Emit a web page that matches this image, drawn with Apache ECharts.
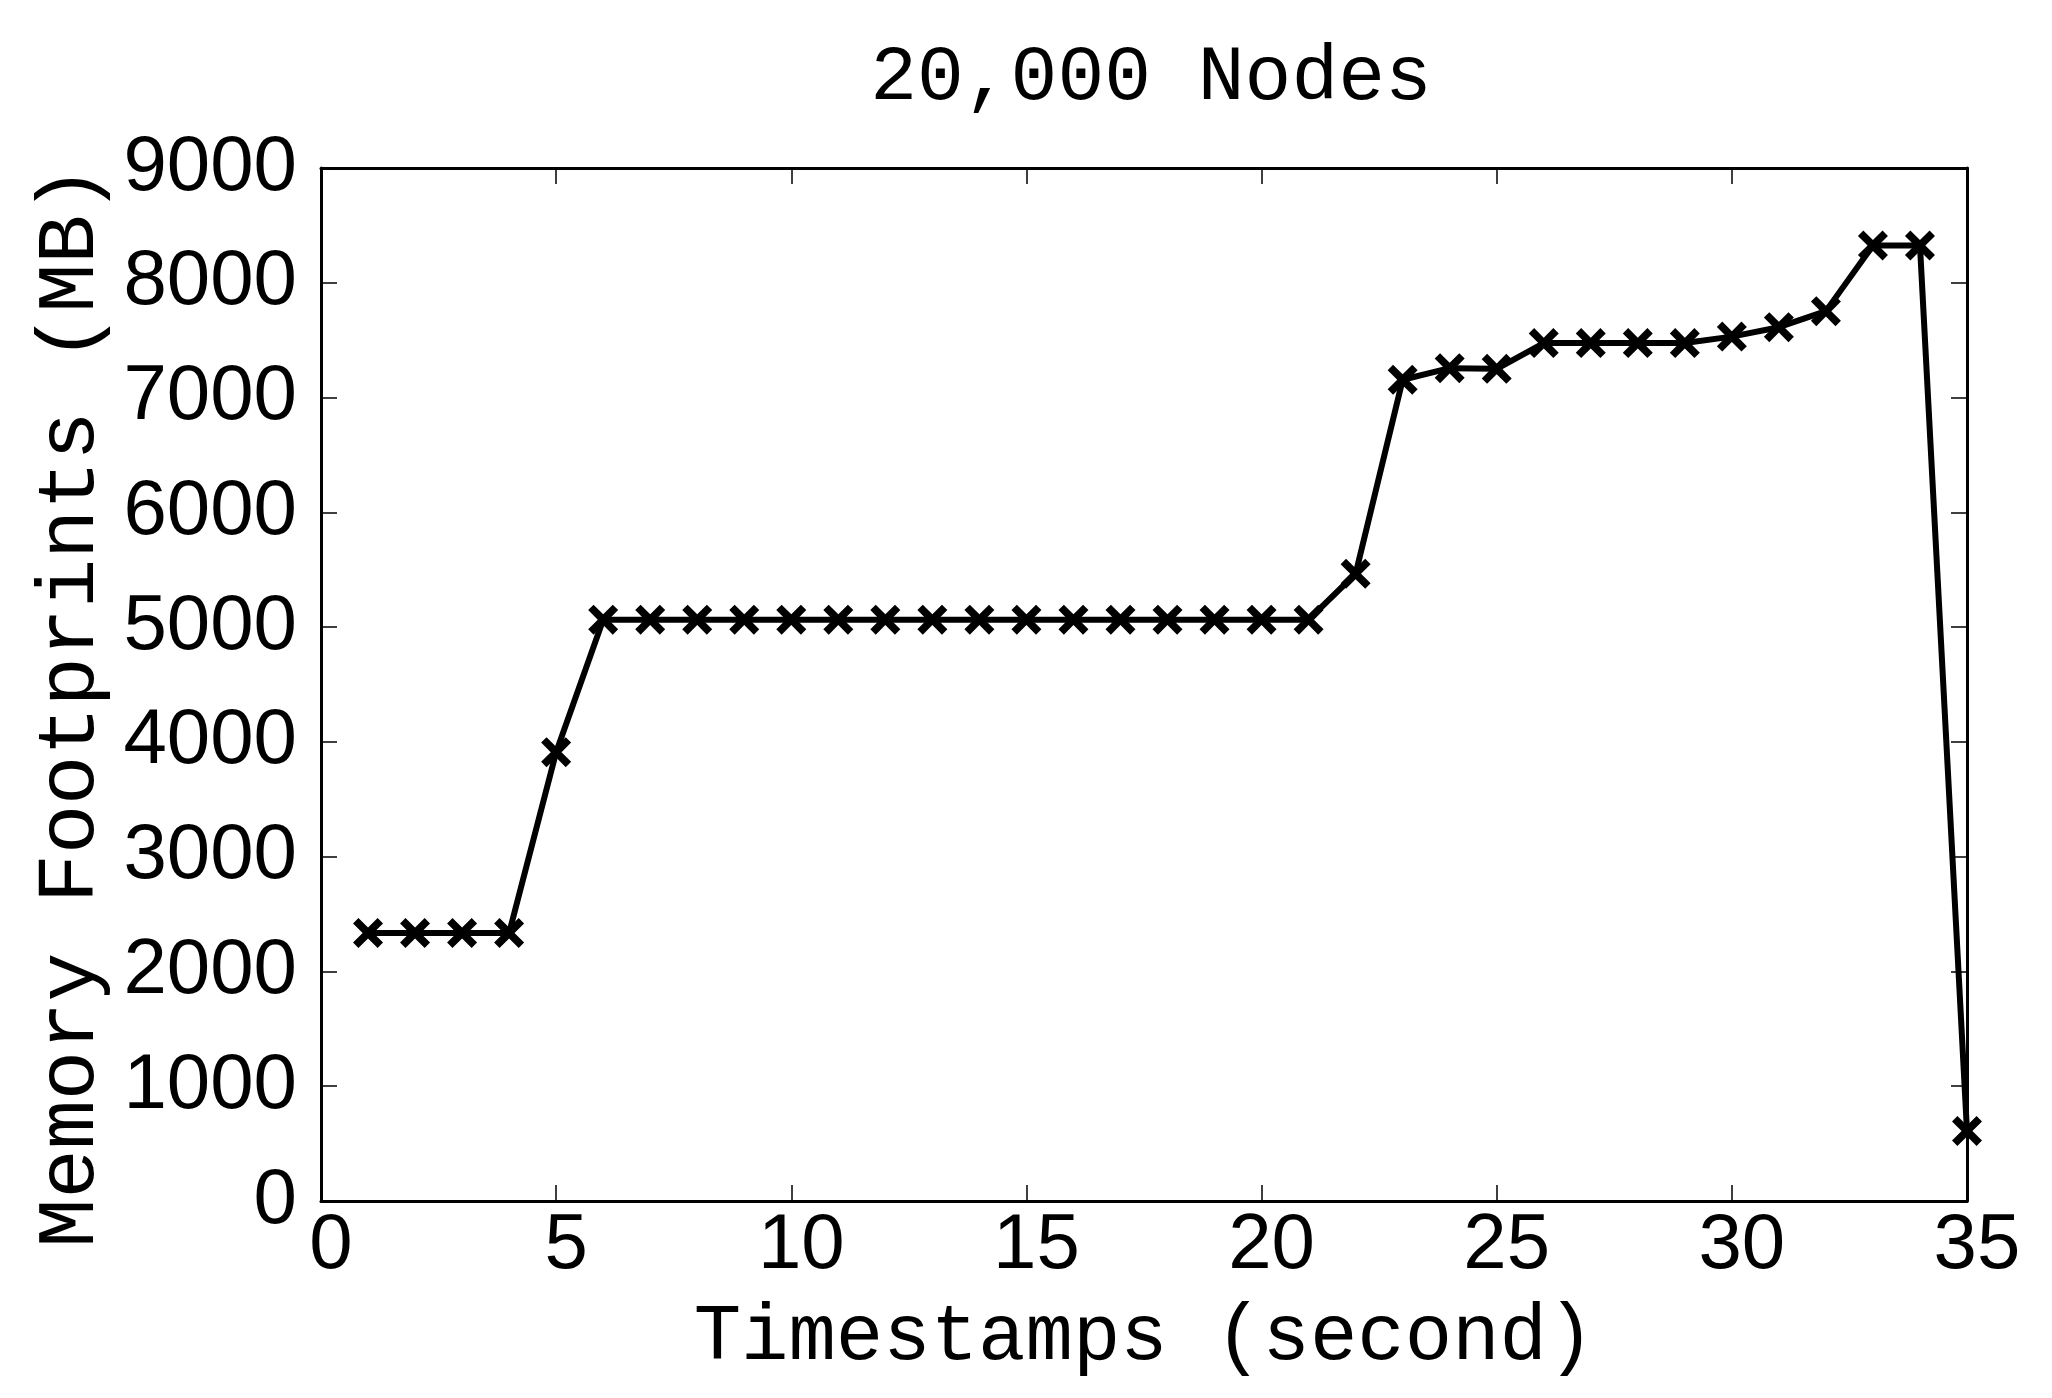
<!DOCTYPE html>
<html>
<head>
<meta charset="utf-8">
<script src="https://cdn.jsdelivr.net/npm/echarts@6/dist/echarts.min.js"></script>
<style>
html,body{margin:0;padding:0;background:#fff;}
#chart{width:2052px;height:1398px;}
</style>
</head>
<body>
<div id="chart"></div>
<script>
var timestamps = [1,2,3,4,5,6,7,8,9,10,11,12,13,14,15,16,17,18,19,20,21,22,23,24,25,26,27,28,29,30,31,32,33,34,35];
var memoryMB = [2335,2335,2335,2335,3910,5065,5065,5065,5065,5065,5065,5065,5065,5065,5065,5065,5065,5065,5065,5065,5065,5465,7155,7256,7250,7475,7475,7475,7475,7531,7613,7753,8325,8325,610];
var titleText = '20,000 Nodes';
var xName = 'Timestamps (second)';
var yName = 'Memory Footprints (MB)';

var pts = timestamps.map(function(t, i){ return [t, memoryMB[i]]; });
var mono = "'Courier New', 'Liberation Mono', monospace";
var sans = "'Liberation Sans', Arial, Helvetica, sans-serif";
var xSym = 'path://M0,1.8L1.8,0L5,3.2L8.2,0L10,1.8L6.8,5L10,8.2L8.2,10L5,6.8L1.8,10L0,8.2L3.2,5Z';

var chart = echarts.init(document.getElementById('chart'));
var axisLine = {show:true, onZero:false, lineStyle:{color:'#000', width:3}};
var tick = {show:true, inside:true, length:16, lineStyle:{color:'#000', width:1.5}};
var plain = function(v){ return String(v); };
chart.setOption({
  animation:false,
  backgroundColor:'#fff',
  title:{text:titleText, left:1146, top:34, textAlign:'center',
    textStyle:{fontFamily:mono, fontSize:78, fontWeight:'normal', color:'#000'}},
  grid:{left:321, right:85, top:168, bottom:197, containLabel:false},
  xAxis:[{type:'value', min:0, max:35, interval:5, position:'bottom',
    name:xName, nameLocation:'middle', nameGap:98,
    nameTextStyle:{fontFamily:mono, fontSize:79, color:'#000'},
    axisLine:axisLine, axisTick:tick, splitLine:{show:false},
    axisLabel:{fontFamily:sans, fontSize:78, color:'#000', margin:6, padding:[0,0,0,20], formatter:plain}},
   {type:'value', min:0, max:35, interval:5, position:'top',
    axisLine:axisLine, axisTick:tick, splitLine:{show:false}, axisLabel:{show:false}}],
  yAxis:[{type:'value', min:0, max:9000, interval:1000, position:'left',
    name:yName, nameLocation:'middle', nameGap:202,
    nameTextStyle:{fontFamily:mono, fontSize:82, color:'#000', padding:[0,44,0,0]},
    axisLine:axisLine, axisTick:tick, splitLine:{show:false},
    axisLabel:{fontFamily:sans, fontSize:78, color:'#000', margin:24, formatter:plain}},
   {type:'value', min:0, max:9000, interval:1000, position:'right',
    axisLine:axisLine, axisTick:tick, splitLine:{show:false}, axisLabel:{show:false}}],
  series:[{type:'line', data:pts, xAxisIndex:0, yAxisIndex:0,
    symbol:xSym, symbolSize:30, showAllSymbol:true,
    lineStyle:{color:'#000', width:6},
    itemStyle:{color:'#000'}}]
});
</script>
</body>
</html>
